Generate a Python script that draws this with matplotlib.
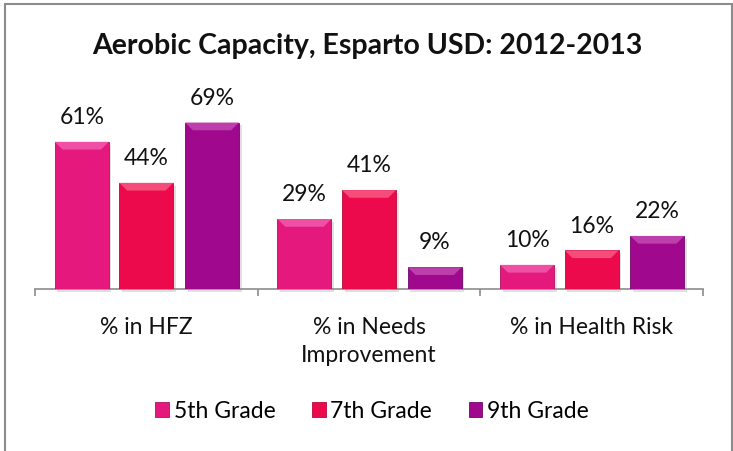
import numpy as np
import matplotlib.pyplot as plt
from matplotlib.patches import Polygon, Rectangle

categories = ['% in HFZ', '% in Needs\nImprovement', '% in Health Risk']
grades = ['5th Grade', '7th Grade', '9th Grade']
grade_5 = [61, 29, 10]
grade_7 = [44, 41, 16]
grade_9 = [69, 9, 22]

colors = ['#E5197D', '#EC0A4C', '#A0088D']
highlights = ['#F04FA6', '#F54C79', '#BC3FAC']
edges = ['#B01060', '#B8083A', '#70066A']

plt.rcParams['font.family'] = ['Lato', 'DejaVu Sans']

fig = plt.figure(figsize=(7.33, 4.51), dpi=100)
fig.patches.append(Rectangle((5 / 733, -0.1), 727 / 733, 1.1 - 4 / 451,
                             transform=fig.transFigure, fill=False,
                             edgecolor='#8C8C8C', linewidth=1.5))
ax = fig.add_axes([35 / 733, (451 - 289) / 451, 668 / 733, 193 / 451])

ind = np.arange(len(categories))
width = 0.242
offsets = [-0.29, 0.0, 0.295]
series = [grade_5, grade_7, grade_9]

for k, vals in enumerate(series):
    bars = ax.bar(ind + offsets[k], vals, width, color=colors[k],
                  edgecolor=edges[k], linewidth=0.6, label=grades[k], zorder=3)
    for b, v in zip(bars, vals):
        x0, w, h = b.get_x(), b.get_width(), b.get_height()
        bx, by = 0.035, 3.2
        # bevel on the top face
        ax.add_patch(Polygon([(x0, h), (x0 + w, h), (x0 + w - bx, h - by), (x0 + bx, h - by)],
                             closed=True, facecolor=highlights[k], edgecolor='none', zorder=4))
        # soft shadow to the right and below
        ax.add_patch(Rectangle((x0 + 0.012, -1.2), w, h, facecolor='#000000',
                               alpha=0.12, edgecolor='none', zorder=2, clip_on=False))
        ax.annotate(f'{v}%', (b.get_x() + w / 2, h), xytext=(0, 10),
                    textcoords='offset points', ha='center', va='bottom',
                    fontsize=16.5, color='#111111')

ax.set_xlim(-0.5, 2.5)
ax.set_ylim(0, 80)
ax.set_yticks([])
for s in ['top', 'right', 'left']:
    ax.spines[s].set_visible(False)
ax.spines['bottom'].set_color('#8C8C8C')
ax.spines['bottom'].set_linewidth(1.2)

ax.set_xticks([-0.5, 0.5, 1.5, 2.5])
ax.set_xticklabels([])
ax.tick_params(axis='x', which='major', length=5, width=1.2, color='#8C8C8C', direction='out')
ax.set_xticks(ind, minor=True)
ax.set_xticklabels(categories, minor=True, fontsize=16.5, color='#111111', linespacing=1.45)
ax.tick_params(axis='x', which='minor', length=0, pad=20)

fig.text(367 / 733, 1 - 46 / 451, 'Aerobic Capacity, Esparto USD: 2012-2013',
         ha='center', va='center', fontsize=20.5, fontweight='bold', color='#111111')

fig.legend(loc='center', bbox_to_anchor=(372 / 733, 1 - 411 / 451), ncol=3,
           frameon=False, fontsize=16.5, handlelength=0.6, handleheight=0.6,
           handletextpad=0.2, columnspacing=1.6)

fig.savefig('out.png', dpi=100)
